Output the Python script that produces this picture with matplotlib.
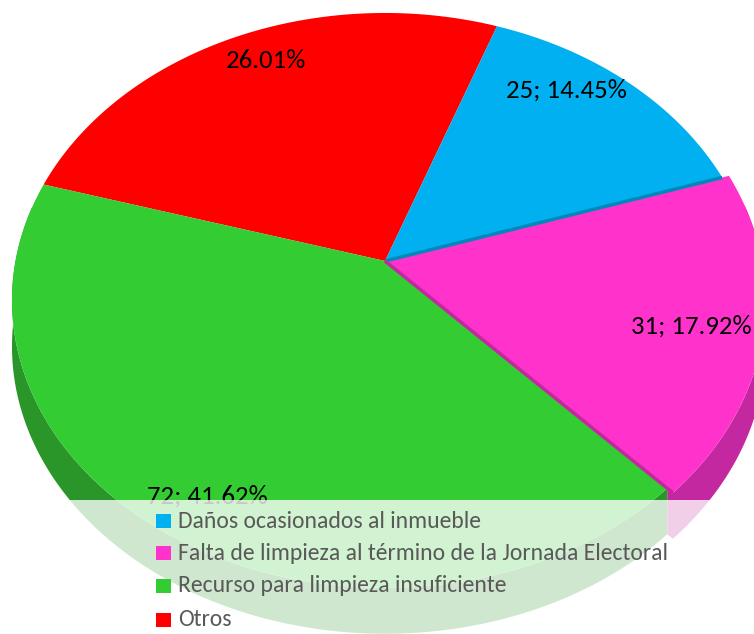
import numpy as np
import matplotlib.pyplot as plt
from matplotlib.patches import Rectangle, Polygon

plt.rcParams['font.family'] = ['Carlito', 'Lato', 'DejaVu Sans']

categories = ['Daños ocasionados al inmueble',
              'Falta de limpieza al término de la Jornada Electoral',
              'Recurso para limpieza insuficiente',
              'Otros']
values = [25, 31, 72, 45]
percents = ['25; 14.45%', '31; 17.92%', '72; 41.62%', '26.01%']
colors = ['#00b0f0', '#ff33cc', '#33cc33', '#ff0000']
dark = ['#0088bb', '#c428a0', '#2a962a', '#c00000']

W, H = 754, 634
fig = plt.figure(figsize=(W/100, H/100), dpi=100)
ax = fig.add_axes([0, 0, 1, 1])
ax.set_xlim(0, W)
ax.set_ylim(H, 0)
ax.axis('off')

# perspective view of a circle, apex sits above the ellipse centre
cx, cy = 385, 261
k, A, B = 0.137, 282, 369.5
depth = 46
start = 70.0
scale = [1.0, 1.02, 1.0, 1.0]   # pink slice sticks out a bit

fracs = np.array(values) / sum(values)
edges = start - np.concatenate([[0], np.cumsum(fracs) * 360])

def rim(a, r=1.0):
    a = np.radians(a)
    d = 1 + k*np.sin(a)
    return cx + r*B*np.cos(a)/d, cy - r*A*np.sin(a)/d

# side wall
for i in range(4):
    a = np.linspace(edges[i], edges[i+1], 300)
    a = a[np.sin(np.radians(a)) < 0.2]
    if len(a) < 2:
        continue
    x, y = rim(a, scale[i])
    if i == 1:
        # close the gap to the green wall at the pink tip
        x0, y0 = rim(edges[2])
        x, y = np.r_[x, x0], np.r_[y, y0]
    xy = np.r_[np.c_[x, y], np.c_[x[::-1], y[::-1] + depth]]
    ax.add_patch(Polygon(xy, fc=dark[i], ec='none'))

# top, red and green first so the darker strips stay on top
for i in [3, 2, 0, 1]:
    a = np.linspace(edges[i], edges[i+1], 300)
    x, y = rim(a, scale[i])
    xy = np.r_[[[cx, cy]], np.c_[x, y]]
    ax.add_patch(Polygon(xy, fc=colors[i], ec='none'))

# dark strips along the edges of blue and pink
x, y = rim(edges[1])
ax.plot([cx, x], [cy, y], color=dark[0], lw=2.5, solid_capstyle='butt')
x, y = rim(edges[2], scale[1])
ax.plot([cx, x], [cy, y], color=dark[1], lw=2.5, solid_capstyle='butt')

labels_xy = [(566, 90), (691, 326), (207, 496), (266, 60)]
for s, (x, y) in zip(percents, labels_xy):
    ax.text(x, y, s, ha='center', va='center', fontsize=19.3, color='black')

# legend box
ax.add_patch(Rectangle((0, 500), W, H-500, fc='white', ec='none', alpha=0.78, zorder=5))
ly = [521, 553, 586, 620]
for c, s, y in zip(colors, categories, ly):
    ax.add_patch(Rectangle((156, y-7), 15, 14, fc=c, ec='none', zorder=6))
    ax.text(178, y, s, ha='left', va='center', fontsize=17, color='#595959', zorder=6)

fig.savefig('out.png', dpi=100)
